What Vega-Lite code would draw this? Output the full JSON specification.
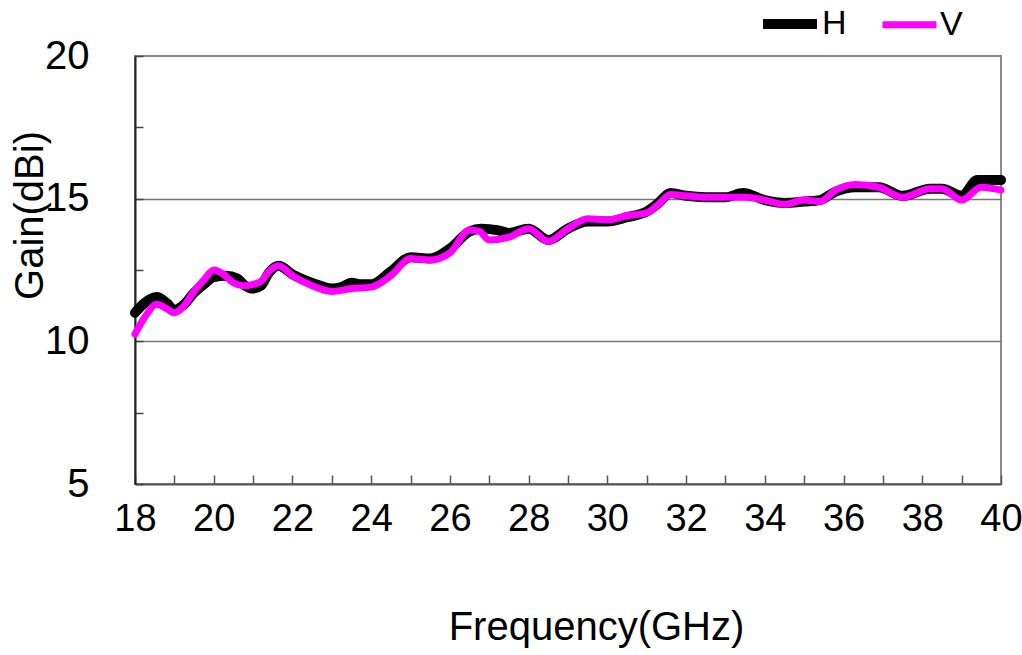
{
  "$schema": "https://vega.github.io/schema/vega-lite/v6.json",
  "width": 866,
  "height": 428,
  "autosize": {"type": "none"},
  "padding": {"left": 135, "top": 56, "right": 21, "bottom": 171},
  "config": {"font": "Liberation Sans", "view": {"stroke": "#8a8a8a", "strokeWidth": 2}},
  "data": {"values": [
    {"freq": 18.0, "pol": "H", "gain": 11.0},
    {"freq": 18.25, "pol": "H", "gain": 11.35},
    {"freq": 18.55, "pol": "H", "gain": 11.55},
    {"freq": 18.8, "pol": "H", "gain": 11.35},
    {"freq": 19.0, "pol": "H", "gain": 11.1},
    {"freq": 19.25, "pol": "H", "gain": 11.3},
    {"freq": 19.5, "pol": "H", "gain": 11.7},
    {"freq": 19.75, "pol": "H", "gain": 12.0},
    {"freq": 20.0, "pol": "H", "gain": 12.25},
    {"freq": 20.3, "pol": "H", "gain": 12.3},
    {"freq": 20.6, "pol": "H", "gain": 12.2},
    {"freq": 20.8, "pol": "H", "gain": 11.95},
    {"freq": 21.0, "pol": "H", "gain": 11.85},
    {"freq": 21.2, "pol": "H", "gain": 11.95},
    {"freq": 21.4, "pol": "H", "gain": 12.4},
    {"freq": 21.65, "pol": "H", "gain": 12.65},
    {"freq": 22.0, "pol": "H", "gain": 12.35},
    {"freq": 22.5, "pol": "H", "gain": 12.05},
    {"freq": 23.0, "pol": "H", "gain": 11.85},
    {"freq": 23.25, "pol": "H", "gain": 11.9},
    {"freq": 23.5, "pol": "H", "gain": 12.05},
    {"freq": 23.75, "pol": "H", "gain": 12.0},
    {"freq": 24.0, "pol": "H", "gain": 12.0},
    {"freq": 24.5, "pol": "H", "gain": 12.45},
    {"freq": 25.0, "pol": "H", "gain": 12.95},
    {"freq": 25.5, "pol": "H", "gain": 12.9},
    {"freq": 26.0, "pol": "H", "gain": 13.25},
    {"freq": 26.5, "pol": "H", "gain": 13.85},
    {"freq": 26.8, "pol": "H", "gain": 13.95},
    {"freq": 27.2, "pol": "H", "gain": 13.9},
    {"freq": 27.5, "pol": "H", "gain": 13.8},
    {"freq": 28.0, "pol": "H", "gain": 13.95},
    {"freq": 28.5, "pol": "H", "gain": 13.55},
    {"freq": 29.0, "pol": "H", "gain": 13.95},
    {"freq": 29.5, "pol": "H", "gain": 14.2},
    {"freq": 30.0, "pol": "H", "gain": 14.2},
    {"freq": 30.5, "pol": "H", "gain": 14.35},
    {"freq": 31.0, "pol": "H", "gain": 14.55},
    {"freq": 31.3, "pol": "H", "gain": 14.85},
    {"freq": 31.6, "pol": "H", "gain": 15.2},
    {"freq": 32.0, "pol": "H", "gain": 15.1},
    {"freq": 32.5, "pol": "H", "gain": 15.05},
    {"freq": 33.0, "pol": "H", "gain": 15.05},
    {"freq": 33.45, "pol": "H", "gain": 15.2},
    {"freq": 34.0, "pol": "H", "gain": 14.95},
    {"freq": 34.5, "pol": "H", "gain": 14.85},
    {"freq": 35.0, "pol": "H", "gain": 14.9},
    {"freq": 35.4, "pol": "H", "gain": 14.95},
    {"freq": 35.8, "pol": "H", "gain": 15.25},
    {"freq": 36.3, "pol": "H", "gain": 15.4},
    {"freq": 36.9, "pol": "H", "gain": 15.4},
    {"freq": 37.5, "pol": "H", "gain": 15.1},
    {"freq": 38.2, "pol": "H", "gain": 15.35},
    {"freq": 38.5, "pol": "H", "gain": 15.35},
    {"freq": 39.0, "pol": "H", "gain": 15.1},
    {"freq": 39.4, "pol": "H", "gain": 15.65},
    {"freq": 40.0, "pol": "H", "gain": 15.65},
    {"freq": 18.0, "pol": "V", "gain": 10.25},
    {"freq": 18.25, "pol": "V", "gain": 10.85},
    {"freq": 18.55, "pol": "V", "gain": 11.3},
    {"freq": 18.8, "pol": "V", "gain": 11.15},
    {"freq": 19.0, "pol": "V", "gain": 11.0},
    {"freq": 19.25, "pol": "V", "gain": 11.25},
    {"freq": 19.5, "pol": "V", "gain": 11.75},
    {"freq": 19.75, "pol": "V", "gain": 12.15},
    {"freq": 20.0, "pol": "V", "gain": 12.5},
    {"freq": 20.25, "pol": "V", "gain": 12.35},
    {"freq": 20.5, "pol": "V", "gain": 12.05},
    {"freq": 20.75, "pol": "V", "gain": 11.95},
    {"freq": 21.0, "pol": "V", "gain": 12.0},
    {"freq": 21.2, "pol": "V", "gain": 12.1},
    {"freq": 21.4, "pol": "V", "gain": 12.45},
    {"freq": 21.65, "pol": "V", "gain": 12.65},
    {"freq": 22.0, "pol": "V", "gain": 12.3},
    {"freq": 22.5, "pol": "V", "gain": 11.95},
    {"freq": 23.0, "pol": "V", "gain": 11.75},
    {"freq": 23.5, "pol": "V", "gain": 11.85},
    {"freq": 24.0, "pol": "V", "gain": 11.9},
    {"freq": 24.5, "pol": "V", "gain": 12.3},
    {"freq": 25.0, "pol": "V", "gain": 12.9},
    {"freq": 25.5, "pol": "V", "gain": 12.85},
    {"freq": 26.0, "pol": "V", "gain": 13.1},
    {"freq": 26.5, "pol": "V", "gain": 13.9},
    {"freq": 26.75, "pol": "V", "gain": 13.85},
    {"freq": 27.0, "pol": "V", "gain": 13.55},
    {"freq": 27.5, "pol": "V", "gain": 13.65},
    {"freq": 28.0, "pol": "V", "gain": 13.95},
    {"freq": 28.5, "pol": "V", "gain": 13.5},
    {"freq": 29.0, "pol": "V", "gain": 13.95},
    {"freq": 29.5, "pol": "V", "gain": 14.3},
    {"freq": 30.0, "pol": "V", "gain": 14.25},
    {"freq": 30.5, "pol": "V", "gain": 14.4},
    {"freq": 31.0, "pol": "V", "gain": 14.5},
    {"freq": 31.3, "pol": "V", "gain": 14.8},
    {"freq": 31.6, "pol": "V", "gain": 15.15},
    {"freq": 32.0, "pol": "V", "gain": 15.1},
    {"freq": 32.5, "pol": "V", "gain": 15.05},
    {"freq": 33.0, "pol": "V", "gain": 15.05},
    {"freq": 33.5, "pol": "V", "gain": 15.05},
    {"freq": 34.0, "pol": "V", "gain": 14.95},
    {"freq": 34.5, "pol": "V", "gain": 14.8},
    {"freq": 35.0, "pol": "V", "gain": 14.95},
    {"freq": 35.4, "pol": "V", "gain": 14.9},
    {"freq": 35.8, "pol": "V", "gain": 15.3},
    {"freq": 36.3, "pol": "V", "gain": 15.5},
    {"freq": 36.9, "pol": "V", "gain": 15.4},
    {"freq": 37.5, "pol": "V", "gain": 15.05},
    {"freq": 38.2, "pol": "V", "gain": 15.35},
    {"freq": 38.5, "pol": "V", "gain": 15.35},
    {"freq": 39.0, "pol": "V", "gain": 14.95},
    {"freq": 39.5, "pol": "V", "gain": 15.4},
    {"freq": 40.0, "pol": "V", "gain": 15.3}
  ]},
  "mark": {"type": "line", "interpolate": "monotone", "strokeCap": "round", "strokeJoin": "round"},
  "encoding": {
    "x": {
      "field": "freq", "type": "quantitative",
      "scale": {"domain": [18, 40], "nice": false, "zero": false},
      "axis": {
        "values": [18,19,20,21,22,23,24,25,26,27,28,29,30,31,32,33,34,35,36,37,38,39,40],
        "labelExpr": "datum.value % 2 == 0 ? datum.label : ''",
        "title": "Frequency(GHz)",
        "grid": false,
        "tickSize": -9, "tickColor": "#555555", "tickWidth": 1.5,
        "domainColor": "#555555", "domainWidth": 2,
        "labelFontSize": 38, "labelColor": "#000000", "labelPadding": 25,
        "labelFlush": false, "labelOverlap": false,
        "titleFontSize": 40, "titleFontWeight": "normal", "titleColor": "#000000",
        "titleX": 461, "titleY": 155, "titleBaseline": "alphabetic", "titleAlign": "center"
      }
    },
    "y": {
      "field": "gain", "type": "quantitative",
      "scale": {"domain": [5, 20], "nice": false, "zero": false},
      "axis": {
        "values": [5, 7.5, 10, 12.5, 15, 17.5, 20],
        "labelExpr": "datum.value % 5 == 0 ? datum.label : ''",
        "title": "Gain(dBi)",
        "grid": true, "gridColor": "#777777", "gridWidth": 1.5,
        "gridOpacity": {"condition": {"test": "datum.value == 10 || datum.value == 15", "value": 1}, "value": 0},
        "tickSize": -8, "tickColor": "#444444", "tickWidth": 1.5,
        "domainColor": "#222222", "domainWidth": 2,
        "labelFontSize": 40, "labelColor": "#000000", "labelPadding": 54,
        "labelFlush": false, "labelOverlap": false,
        "titleFontSize": 40, "titleFontWeight": "normal", "titleColor": "#000000",
        "titleX": -93, "titleY": 159, "titleAngle": -90, "titleBaseline": "alphabetic", "titleAlign": "center"
      }
    },
    "color": {
      "field": "pol", "type": "nominal",
      "scale": {"domain": ["H", "V"], "range": ["#000000", "#ff00ff"]},
      "legend": {
        "orient": "none", "legendX": 623, "legendY": -64, "direction": "horizontal",
        "title": null, "symbolType": "stroke", "symbolSize": 2916, "symbolStrokeWidth": 7,
        "labelFontSize": 34, "labelOffset": 0, "columnPadding": 21, "labelColor": "#000000"
      }
    },
    "strokeWidth": {
      "field": "pol", "type": "nominal",
      "scale": {"domain": ["H", "V"], "range": [10, 7]},
      "legend": null
    }
  }
}
